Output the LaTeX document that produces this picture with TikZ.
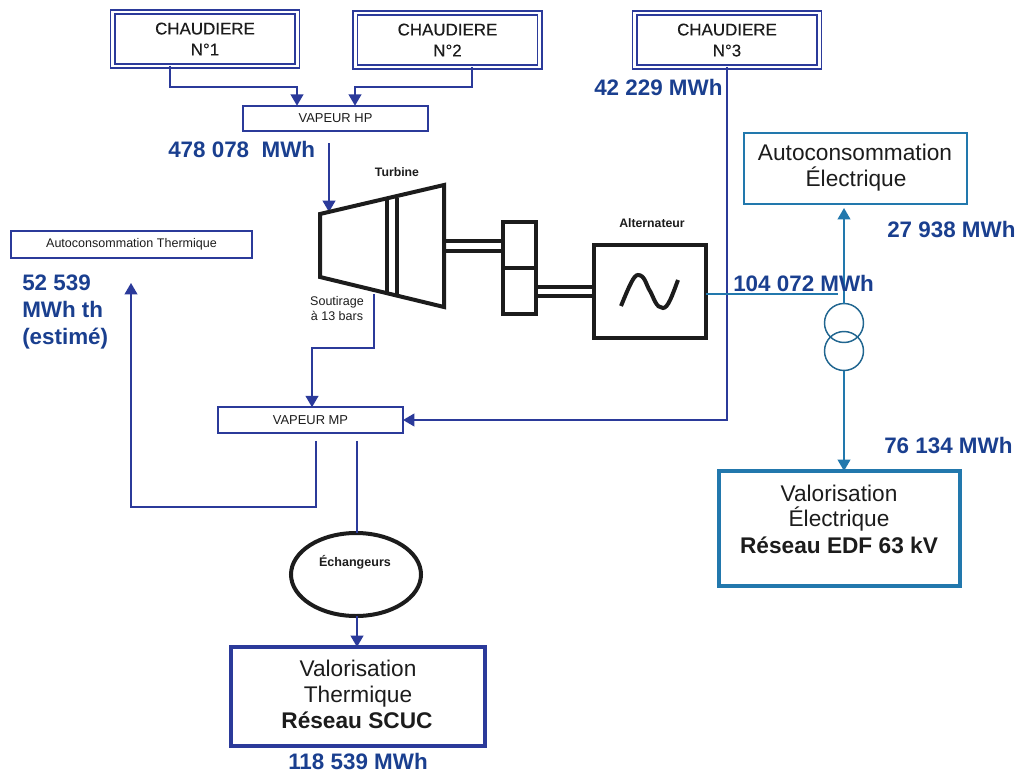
\documentclass[tikz,border=0pt]{standalone}
\usepackage{fontspec}
\setmainfont{Liberation Sans}
\usetikzlibrary{arrows.meta,shapes.geometric,calc}
\definecolor{navy}{HTML}{2B3A9A}
\definecolor{lab}{HTML}{1A3F8F}
\definecolor{teal}{HTML}{2278AD}
\definecolor{ink}{HTML}{1C1C1C}
\newcommand{\fs}[1]{\fontsize{#1}{#1}\selectfont}
\tikzset{
  boxbase/.style={rectangle,inner sep=0pt,outer sep=0pt,text=ink,align=center},
  chaud/.style={boxbase,draw=navy,line width=1.3pt,double=white,double distance=2.2pt,minimum width={184.5*0.75pt},minimum height={54*0.75pt},font=\fs{12.7}\addfontfeature{FakeBold=0.3},text depth=0pt},
  thin box/.style={boxbase,draw=navy,line width=1.3pt,minimum width={185*0.75pt},minimum height={25.5*0.75pt},font=\fs{9.7}},
  big box/.style={boxbase,line width=3pt},
  val/.style={inner sep=0pt,text=lab,font=\bfseries\fs{16.8},align=left,anchor=west},
  lbl/.style={inner sep=0pt,text=ink,font=\fs{9.4},align=center},
  blbl/.style={lbl,font=\bfseries\fs{9.2}},
  big txt/.style={inner sep=0pt,text=ink,font=\fs{17},text height=15pt,text depth=3pt},
  link/.style={draw=navy,line width=1.4pt},
  arr/.style={link,-{Triangle[length=8.5pt,width=9.5pt,fill=navy]}},
  elink/.style={draw=teal,line width=1.3pt},
  earr/.style={elink,-{Triangle[length=8.5pt,width=9.5pt,fill=teal]}},
  mach/.style={draw=ink,line width=3pt,line join=miter},
  machn/.style={boxbase,draw=ink,line width=3pt}
}
\begin{document}
\begin{tikzpicture}[x=0.75pt,y=-0.75pt]
\useasboundingbox (0,0) rectangle (1017,774);
% boilers
\node[chaud] (ch1) at (205,39) {CHAUDIERE\\[3pt]N°1};
\node[chaud] (ch2) at (447.5,40) {CHAUDIERE\\[3pt]N°2};
\node[chaud] (ch3) at (727,40) {CHAUDIERE\\[3pt]N°3};
\node[thin box] (hp) at (335.5,118.5) {VAPEUR HP};
\node[thin box] (mp) at (310.5,420) {VAPEUR MP};
\node[thin box,minimum width={241*0.75pt},minimum height={27*0.75pt},font=\fs{9.4}] (ath) at (131.5,244.5) {Autoconsommation Thermique};
% routing points
\coordinate (c1) at (170,87); \coordinate (c2) at (472,87);
\coordinate (h1) at (297,0);  \coordinate (h2) at (355,0);
\coordinate (ht) at (329,212);
\coordinate (s1) at (374,294); \coordinate (s2) at (312,348);
\coordinate (m1) at (316,507); \coordinate (m2) at (357,0);
\coordinate (m3) at (131,283);
% connectors above
\draw[arr] (ch1.south -| c1) -- (c1) -| (h1 |- hp.north);
\draw[arr] (ch2.south -| c2) -- (c2) -| (h2 |- hp.north);
\draw[arr,shorten <=9pt] (hp.south -| ht) -- (ht);
% turbine
\coordinate (t1) at (320,214); \coordinate (t2) at (444,185);
\coordinate (t3) at (444,307); \coordinate (t4) at (320,277);
\draw[mach] (t1) -- (t2) -- (t3) -- (t4) -- cycle;
\coordinate (b1) at (387,200); \coordinate (b2) at (387,293);
\coordinate (b3) at (397,198); \coordinate (b4) at (397,295);
\draw[mach,line width=2.6pt] (b1) -- (b2);
\draw[mach,line width=2.6pt] (b3) -- (b4);
% gearbox
\node[machn,minimum width={33*0.75pt},minimum height={92*0.75pt}] (gear) at (519.5,268) {};
\draw[mach,line width=2.6pt] (gear.west) -- (gear.east);
\coordinate (g1) at (444,241); \coordinate (g2) at (444,251);
\draw[mach,line width=2.4pt] (g1) -- (g1 -| gear.west);
\draw[mach,line width=2.4pt] (g2) -- (g2 -| gear.west);
% alternator
\node[machn,minimum width={112*0.75pt},minimum height={93*0.75pt}] (alt) at (650,291.5) {};
\coordinate (g3) at (536,287); \coordinate (g4) at (536,296);
\draw[mach,line width=2.4pt] (g3) -- (g3 -| alt.west);
\draw[mach,line width=2.4pt] (g4) -- (g4 -| alt.west);
\coordinate (w1) at (621,306); \coordinate (w2) at (650,291); \coordinate (w3) at (678,280);
\draw[mach,line cap=butt] (w1) .. controls (630,284) and (634,275) .. (638,275) .. controls (645,275) and (646,285) .. (w2) .. controls (654,298) and (656,308) .. (663,308) .. controls (668,308) and (672,296) .. (w3);
\node[blbl] (lturb) at (397,172) {Turbine};
\node[blbl] (lalt) at (652,223) {Alternateur};
\node[lbl,align=center] (lsout) at (337,308.5) {Soutirage\\[2pt]à 13 bars};
% MP connectors
\draw[arr] (s1) -- (s1 |- s2) -| (mp.north -| s2);
\draw[arr] (ch3.south) |- (mp.east);
\draw[arr,shorten <=6pt] (mp.south -| m1) -- (m1) -| (m3);
% exchanger
\node[ellipse,draw=ink,line width=3pt,minimum width={130*0.75pt},minimum height={83*0.75pt},inner sep=0pt,outer sep=0pt] (ech) at (356,574.5) {};
\node[blbl,font=\bfseries\fs{9.4}] (lech) at (355,562) {Échangeurs};
\draw[link,shorten <=6pt] (mp.south -| m2) -- (m2 |- ech.north);
% SCUC
\node[big box,draw=navy,minimum width={254*0.75pt},minimum height={99*0.75pt}] (scuc) at (358,696.5) {};
\draw[arr] (m2 |- ech.south) -- (m2 |- scuc.north);
\node[big txt] (v1) at (358,668) {Valorisation};
\node[big txt] (v2) at (358,694) {Thermique};
\node[big txt,font=\bfseries\fs{17}] (v3) at (357,720) {Réseau SCUC};
% electrical side
\node[boxbase,draw=teal,line width=1.3pt,minimum width={223*0.75pt},minimum height={71*0.75pt}] (auto) at (855.5,168.5) {};
\node[big txt] (a1) at (855,152) {Autoconsommation};
\node[big txt] (a2) at (856,178) {Électrique};
\node[circle,draw=teal!80!ink,line width=1.1pt,minimum size={39*0.75pt},inner sep=0pt,outer sep=0pt] (tr1) at (844,323) {};
\node[circle,draw=teal!80!ink,line width=1.1pt,minimum size={39*0.75pt},inner sep=0pt,outer sep=0pt] (tr2) at (844,351) {};
\node[big box,draw=teal,minimum width={241*0.75pt},minimum height={115*0.75pt}] (edf) at (839.5,528.5) {};
\node[big txt] (e1) at (839,493) {Valorisation};
\node[big txt] (e2) at (839,518) {Électrique};
\node[big txt,font=\bfseries\fs{17}] (e3) at (839,545) {Réseau EDF 63 kV};
\coordinate (busend) at (838,294);
\draw[elink] (alt.east |- busend) -- (busend);
\draw[earr,shorten >=3pt] (tr1.north) -- (tr1.north |- auto.south);
\draw[earr] (tr2.south) -- (tr2.south |- edf.north);
% quantities
\node[val] (q1) at (168,149) {478 078\ \ MWh};
\node[val] (q2) at (594,87) {42 229 MWh};
\node[val] (q3) at (887,230) {27 938 MWh};
\node[val] (q4) at (733,283) {104 072 MWh};
\node[val] (q5) at (884,446) {76 134 MWh};
\node[val] (q6) at (288,762) {118 539 MWh};
\node[val] (q7) at (22,312) {52 539\\[3.4pt]MWh th\\[3.4pt](estimé)};
\end{tikzpicture}
\end{document}
